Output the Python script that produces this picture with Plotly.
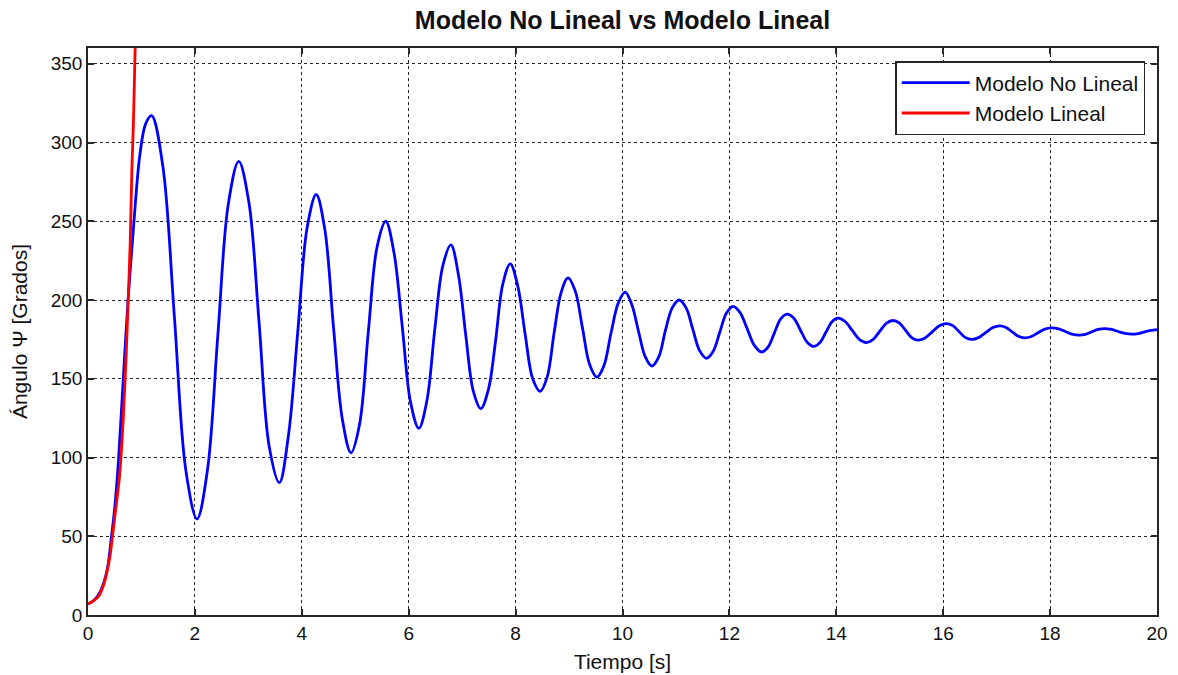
import plotly.graph_objects as go

# Time samples (s) and angle (degrees) of the non-linear model response
t_nl = [0, 0.1, 0.2, 0.3, 0.37, 0.44, 0.5, 0.57, 0.66, 0.75, 0.86, 0.97, 1.08, 1.19,
        1.40, 1.615, 1.83, 2.04,
        2.235, 2.43, 2.625, 2.82,
        3.01, 3.20, 3.39, 3.58,
        3.75, 3.925, 4.10, 4.27,
        4.43, 4.595, 4.76, 4.92,
        5.08, 5.245, 5.41, 5.57,
        5.725, 5.88, 6.035, 6.19,
        6.34, 6.49, 6.64, 6.79,
        6.93, 7.07, 7.21, 7.35,
        7.49, 7.625, 7.76, 7.90,
        8.04, 8.18, 8.32, 8.46,
        8.59, 8.72, 8.85, 8.98,
        9.115, 9.25, 9.385, 9.52,
        9.65, 9.785, 9.92, 10.05,
        10.175, 10.30, 10.425, 10.55,
        10.68, 10.805, 10.93, 11.06,
        11.19, 11.315, 11.44, 11.57,
        11.695, 11.82, 11.945, 12.07,
        12.20, 12.335, 12.47, 12.60,
        12.72, 12.84, 12.96, 13.08,
        13.205, 13.33, 13.455, 13.58,
        13.69, 13.805, 13.92, 14.03,
        14.16, 14.295, 14.43, 14.56,
        14.685, 14.81, 14.935, 15.06,
        15.18, 15.295, 15.41, 15.53,
        15.66, 15.795, 15.93, 16.06,
        16.18, 16.295, 16.41, 16.53,
        16.66, 16.795, 16.93, 17.06,
        17.175, 17.29, 17.405, 17.52,
        17.65, 17.775, 17.90, 18.03,
        18.16, 18.285, 18.41, 18.54,
        18.66, 18.78, 18.90, 19.02,
        19.15, 19.275, 19.40, 19.53,
        19.65, 19.77, 19.89, 20.0]
psi_nl = [7, 9, 13, 21, 31, 50, 68, 98, 150, 200, 250, 292, 312, 317,
          285, 190, 92, 61,
          92, 178, 261, 288,
          262, 186, 107, 84,
          114, 180, 246, 267,
          245, 182, 124, 103,
          121, 180, 234, 250,
          230, 183, 135, 118.5,
          136, 182, 222, 235,
          216, 177, 142, 131,
          143, 174, 210, 223,
          209, 178, 150, 142,
          151, 179, 204.5, 214,
          205.8, 182.5, 159, 151,
          158, 179, 198, 205,
          197, 180, 164, 158,
          164, 181, 195, 200,
          195, 181.5, 168, 163,
          167.3, 179.5, 191.7, 196,
          192, 181.5, 171, 167,
          170, 179, 188, 191,
          188.4, 180.8, 173.2, 170.5,
          172.8, 179.5, 186.2, 188.5,
          186.5, 180.8, 175, 173,
          174.8, 180, 185.2, 187,
          185.4, 180.8, 176.1, 174.5,
          175.9, 179.8, 183.6, 185,
          183.7, 180, 176.3, 175,
          176.1, 179.3, 182.5, 183.6,
          182.6, 179.8, 177, 176,
          176.8, 179.2, 181.5, 182.3,
          181.7, 180, 178.3, 177.7,
          178.2, 179.8, 181.3, 181.8,
          181.3, 180, 178.8, 178.3,
          178.7, 179.8, 180.7, 181.2]

# Linear model response (diverges quickly, leaves the axes near t = 0.9 s)
t_lin = [0, 0.1, 0.2, 0.3, 0.41, 0.5, 0.59, 0.66, 0.72, 0.79, 0.82, 0.85, 0.88, 0.9, 0.92]
psi_lin = [7, 9, 12, 20, 37, 62, 88, 125, 170, 237, 282, 313, 357, 385, 420]

x_ticks = [0, 2, 4, 6, 8, 10, 12, 14, 16, 18, 20]
y_ticks = [0, 50, 100, 150, 200, 250, 300, 350]

FONT = "Liberation Sans, Arial, sans-serif"
INK = "#111111"

fig = go.Figure()
fig.add_trace(go.Scatter(x=t_nl, y=psi_nl, mode="lines", name="Modelo No Lineal",
                         line=dict(color="#0000ff", width=2.8, shape="spline", smoothing=1)))
fig.add_trace(go.Scatter(x=t_lin, y=psi_lin, mode="lines", name="Modelo Lineal",
                         line=dict(color="#ff0000", width=2.8, shape="spline", smoothing=0.6)))

axis_common = dict(
    showline=True, linecolor="#262626", linewidth=1.5, mirror="ticks",
    ticks="inside", ticklen=6, tickcolor="#262626", tickwidth=1.5,
    showgrid=True, gridcolor="#262626", gridwidth=1, griddash="3px,3px",
    zeroline=False, automargin=False,
    tickfont=dict(family=FONT, size=19, color=INK),
)

fig.update_xaxes(range=[0, 20], tickvals=x_ticks,
                 title=dict(text="Tiempo [s]", font=dict(family=FONT, size=21, color=INK),
                            standoff=12),
                 **axis_common)
fig.update_yaxes(range=[0, 360], tickvals=y_ticks,
                 title=dict(text="Ángulo Ψ [Grados]", font=dict(family=FONT, size=21, color=INK),
                            standoff=17),
                 **axis_common)

fig.update_layout(
    width=1178, height=675,
    margin=dict(l=88, r=21, t=48, b=60),
    paper_bgcolor="white", plot_bgcolor="white",
    title=dict(text="<b>Modelo No Lineal vs Modelo Lineal</b>", x=0.5, xanchor="center",
               xref="paper", y=0.97, yanchor="middle",
               font=dict(family=FONT, size=25, color=INK)),
    legend=dict(x=0.989, xanchor="right", y=0.977, yanchor="top",
                bgcolor="white", bordercolor="#262626", borderwidth=1.5,
                font=dict(family=FONT, size=21, color=INK),
                itemwidth=68, tracegroupgap=0),
    showlegend=True,
)

fig.write_html("out.html")
